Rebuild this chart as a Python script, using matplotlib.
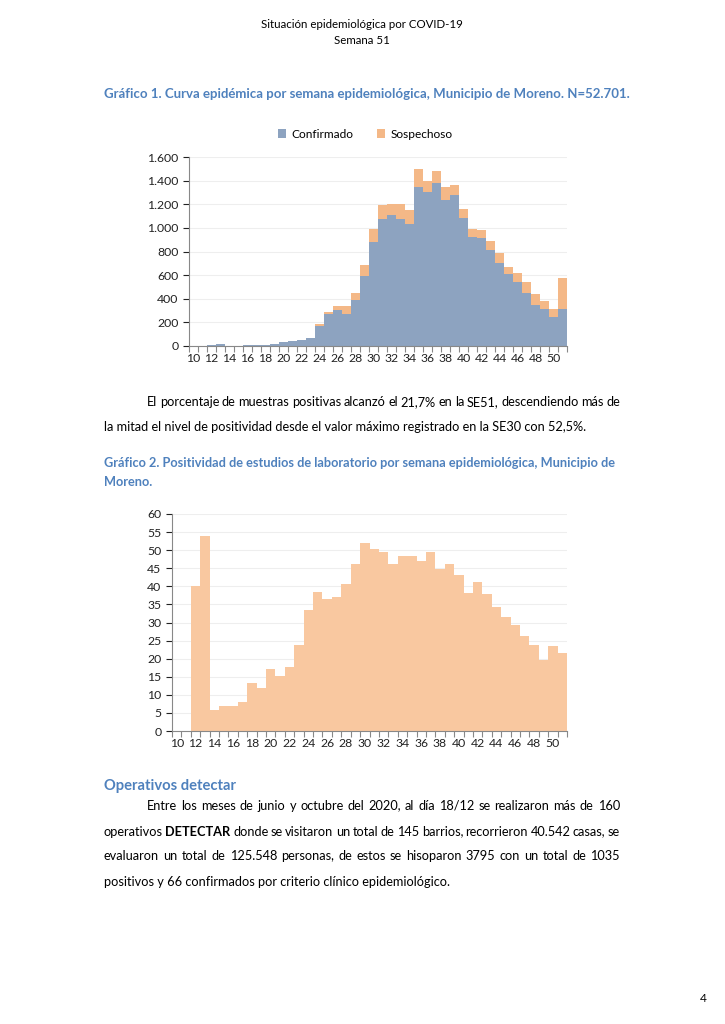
import matplotlib
matplotlib.use("Agg")
import matplotlib.pyplot as plt
import numpy as np

plt.rcParams['font.family'] = 'Lato'

# Datos
semanas = list(range(10, 52))
confirmado = [0, 0, 5, 20, 3, 3, 5, 10, 12, 13, 30, 40, 50, 65,
              170, 271, 302, 271, 390, 596, 884, 1073, 1105, 1073, 1037,
              1350, 1300, 1376, 1232, 1280, 1082, 926, 915, 813, 706,
              607, 540, 452, 350, 311, 249, 316]
total = [0, 0, 5, 20, 3, 3, 5, 10, 12, 13, 30, 40, 50, 68,
         190, 291, 336, 336, 446, 686, 989, 1195, 1203, 1203, 1155,
         1497, 1398, 1483, 1350, 1361, 1158, 989, 983, 890, 791,
         672, 616, 542, 443, 384, 313, 579]
sospechoso = [t - c for t, c in zip(total, confirmado)]
positividad = [0, 0, 40.0, 53.8, 5.7, 7.0, 7.0, 8.0, 13.3, 12.0, 17.2, 15.3,
               17.6, 23.7, 33.4, 38.5, 36.5, 37.0, 40.7, 46.3, 52.0, 50.3,
               49.4, 46.2, 48.3, 48.3, 46.9, 49.4, 44.8, 46.3, 43.0, 38.2,
               41.3, 37.8, 34.3, 31.5, 29.4, 26.2, 23.7, 19.5, 23.6, 21.7]

AZUL = '#8DA3C0'
NARANJA = '#F4B887'
NARANJA2 = '#F9C8A0'
TITULO = '#4F81BD'
W, H = 725, 1024
CUERPO = 9.2

fig = plt.figure(figsize=(7.25, 10.24), dpi=100)
fig.patch.set_facecolor('white')


def px(x, y):
    return x / W, 1 - y / H


def txt(x, y, s, **kw):
    fx, fy = px(x, y)
    return fig.text(fx, fy, s, va='center', **kw)


def justify(x0, x1, y, s, size=CUERPO):
    # reparte las palabras entre los margenes (linea de base comun)
    r = fig.canvas.get_renderer()
    objs = []
    for w in s.split(' '):
        weight = 'normal'
        if w.startswith('*'):
            w = w.strip('*')
            weight = 'bold'
        fx, fy = px(x0, y + 3.5)
        objs.append(fig.text(fx, fy, w, fontsize=size, fontweight=weight,
                             va='baseline'))
    widths = [o.get_window_extent(r).width for o in objs]
    gap = max((x1 - x0 - sum(widths)) / (len(objs) - 1), 2.0)
    x = x0
    for o, wd in zip(objs, widths):
        o.set_x(x / W)
        x += wd + gap


def style_axes(ax, ymax, ystep, fmt):
    ax.set_xlim(9.5, 51.5)
    ax.set_ylim(0, ymax)
    vals = np.arange(0, ymax + 1, ystep)
    ax.set_yticks(vals)
    ax.set_yticklabels([fmt(v) for v in vals])
    ax.set_xticks(range(10, 52, 2))
    ax.tick_params(axis='x', length=0, labelsize=8.8, pad=5, colors='#222222')
    ax.tick_params(axis='y', length=4, labelsize=8.8, colors='#222222',
                   direction='out', width=0.8)
    ax.set_xticks(np.arange(9.5, 52, 1), minor=True)
    ax.tick_params(axis='x', which='minor', length=4, color='#888888', width=0.8)
    for s in ['top', 'right']:
        ax.spines[s].set_visible(False)
    for s in ['left', 'bottom']:
        ax.spines[s].set_color('#888888')
        ax.spines[s].set_linewidth(0.8)
    ax.yaxis.grid(True, color='#EEEEEE', linewidth=0.8)
    ax.set_axisbelow(True)


def miles(v):
    return '{:,.0f}'.format(v).replace(',', '.')


# Encabezado
txt(362, 24, 'Situación epidemiológica por COVID-19', ha='center', fontsize=8.3)
txt(362, 40, 'Semana 51', ha='center', fontsize=8.3)

txt(104, 94, 'Gráfico 1. Curva epidémica por semana epidemiológica, Municipio de Moreno. N=52.701.',
    fontsize=9.5, fontweight='bold', color=TITULO)

# Grafico 1
ax1 = fig.add_axes([189 / W, 1 - 346 / H, 378 / W, 189 / H])
ax1.bar(semanas, confirmado, width=1.0, color=AZUL, label='Confirmado')
ax1.bar(semanas, sospechoso, width=1.0, bottom=confirmado, color=NARANJA, label='Sospechoso')
style_axes(ax1, 1600, 200, miles)
ax1.legend(loc='lower center', bbox_to_anchor=(0.466, 1.035), ncol=2, frameon=False,
           fontsize=8.6, handlelength=0.7, handleheight=0.7, columnspacing=2.0,
           handletextpad=0.4)

# Parrafo 1
justify(147, 620, 403, 'El porcentaje de muestras positivas alcanzó el 21,7% en la SE51, descendiendo más de')
txt(104, 427, 'la mitad el nivel de positividad desde el valor máximo registrado en la SE30 con 52,5%.',
    fontsize=CUERPO)

txt(104, 463, 'Gráfico 2. Positividad de estudios de laboratorio por semana epidemiológica, Municipio de',
    fontsize=9.2, fontweight='bold', color=TITULO)
txt(104, 482, 'Moreno.', fontsize=9.2, fontweight='bold', color=TITULO)

# Grafico 2
ax2 = fig.add_axes([172 / W, 1 - 731 / H, 395 / W, 217 / H])
ax2.bar(semanas, positividad, width=1.0, color=NARANJA2)
style_axes(ax2, 60, 5, lambda v: '{:.0f}'.format(v))

# Operativos
txt(104, 786, 'Operativos detectar', fontsize=10.6, fontweight='bold', color=TITULO)
justify(147, 620, 806, 'Entre los meses de junio y octubre del 2020, al día 18/12 se realizaron más de 160')
justify(104, 620, 832, 'operativos *DETECTAR* donde se visitaron un total de 145 barrios, recorrieron 40.542 casas, se')
justify(104, 620, 857, 'evaluaron un total de 125.548 personas, de estos se hisoparon 3795 con un total de 1035')
txt(104, 882, 'positivos y 66 confirmados por criterio clínico epidemiológico.', fontsize=CUERPO)

txt(703, 998, '4', ha='center', fontsize=8.6)

fig.savefig('out.png', dpi=100, facecolor='white')
